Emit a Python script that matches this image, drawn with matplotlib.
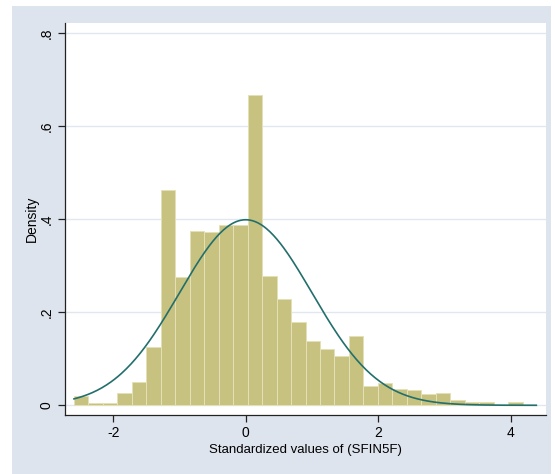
import numpy as np
import matplotlib.pyplot as plt
from matplotlib.patches import Rectangle

plt.rcParams['font.family'] = ['Liberation Sans', 'DejaVu Sans']
plt.rcParams['axes.unicode_minus'] = False

# histogram of standardized SFIN5F (density scale)
bin_start = -2.594
bin_width = 0.2186
density = [0.020, 0.005, 0.005, 0.027, 0.051, 0.126, 0.462, 0.275,
           0.375, 0.372, 0.387, 0.388, 0.667, 0.278, 0.229, 0.179,
           0.138, 0.122, 0.105, 0.150, 0.041, 0.047, 0.035, 0.032,
           0.024, 0.026, 0.011, 0.007, 0.007, 0.0, 0.006]
data_min, data_max = -2.594, 4.39

xticks = [-2, 0, 2, 4]
yticks = [0, 0.2, 0.4, 0.6, 0.8]
ytick_labels = ['0', '.2', '.4', '.6', '.8']

edges = bin_start + bin_width * np.arange(len(density) + 1)

fig = plt.figure(figsize=(5.55, 4.74), dpi=100)
fig.patch.set_facecolor('white')
fig.add_artist(Rectangle((12/555, 0), 539/555, 468/474,
                         transform=fig.transFigure, facecolor='#dee4ee',
                         edgecolor='none', zorder=-10))

ax = fig.add_axes([65/555, 59/474, 481/555, 392/474])
ax.set_facecolor('white')

ax.bar(edges[:-1], density, width=bin_width, align='edge',
       color='#c8c280', edgecolor='#e4e0b8', linewidth=0.7, zorder=2)

xs = np.linspace(data_min, data_max, 400)
ax.plot(xs, np.exp(-xs**2 / 2) / np.sqrt(2*np.pi), color='#236f6b', lw=1.2, zorder=3)

ax.set_xlim(-2.73, 4.536)
ax.set_ylim(-0.0209, 0.822)
ax.set_xticks(xticks)
ax.set_yticks(yticks)
ax.set_yticklabels(ytick_labels, rotation=90, va='center')
ax.yaxis.grid(True, color='#e1e7f0', lw=1.0, zorder=1)
ax.set_axisbelow(True)
for s in ['top', 'right']:
    ax.spines[s].set_visible(False)
for s in ['left', 'bottom']:
    ax.spines[s].set_color('#222222')
    ax.spines[s].set_linewidth(0.9)
ax.tick_params(direction='out', length=5, width=0.9, color='#222222',
               labelsize=10, pad=3)

ax.set_xlabel('Standardized values of (SFIN5F)', fontsize=9.5, labelpad=3)
ax.set_ylabel('Density', fontsize=10, labelpad=0.5)

fig.savefig('out.png', dpi=100)
